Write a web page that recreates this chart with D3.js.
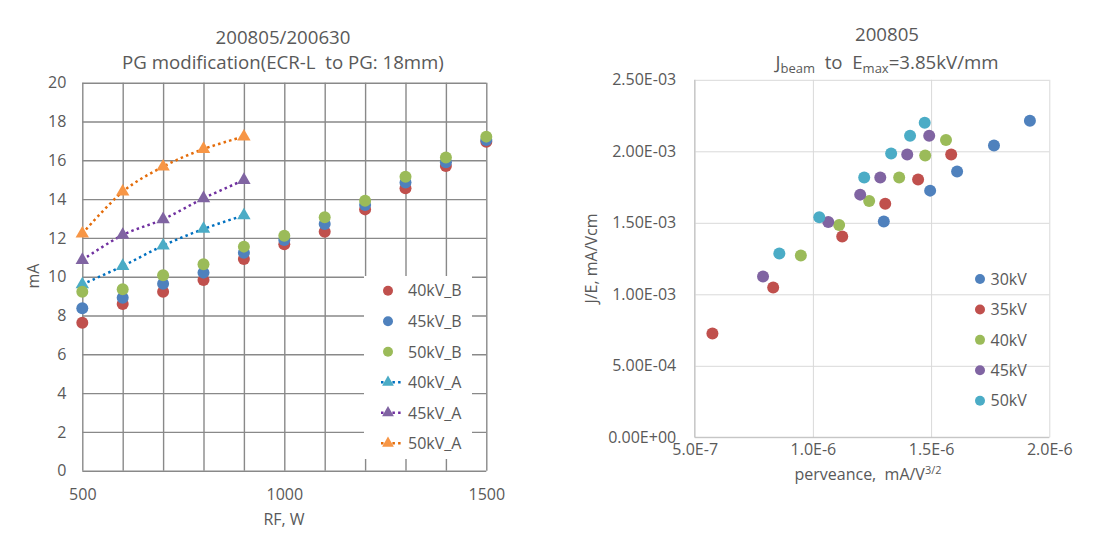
<!DOCTYPE html>
<html><head><meta charset="utf-8">
<script src="https://cdn.jsdelivr.net/npm/d3@7"></script>
<style>
html,body{margin:0;padding:0;background:#fff;}
svg text{font-family:"Open Sans","Noto Sans",sans-serif;fill:#595959;}
</style></head>
<body><svg id="c" width="1104" height="552"></svg>
<script>
// ---------- Left chart data ----------
const rfB = [500,600,700,800,900,1000,1100,1200,1300,1400,1500];
const kv40B = [7.63,8.59,9.23,9.83,10.91,11.67,12.32,13.47,14.56,15.71,16.95];
const kv45B = [8.37,8.92,9.64,10.21,11.24,11.89,12.72,13.70,14.85,15.90,17.05];
const kv50B = [9.23,9.35,10.07,10.64,11.55,12.11,13.06,13.92,15.15,16.15,17.22];
const rfA = [500,600,700,800,900];
const kv40A = [9.60,10.55,11.60,12.46,13.16];
const kv45A = [10.86,12.15,12.96,14.04,14.98];
const kv50A = [12.22,14.38,15.67,16.58,17.22];
const leftYTicks = [0,2,4,6,8,10,12,14,16,18,20];
const leftXGrid = [500,600,700,800,900,1000,1100,1200,1300,1400,1500];
const leftXLabels = ["500","1000","1500"];
const leftSeriesNames = ["40kV_B","45kV_B","50kV_B","40kV_A","45kV_A","50kV_A"];

// ---------- Right chart data ----------
const perv30 = [1.918e-6,1.766e-6,1.610e-6,1.496e-6,1.300e-6];
const j30    = [2.214e-3,2.040e-3,1.858e-3,1.725e-3,1.509e-3];
const perv35 = [1.585e-6,1.445e-6,1.306e-6,1.124e-6,0.832e-6,0.575e-6];
const j35    = [1.977e-3,1.802e-3,1.634e-3,1.404e-3,1.048e-3,0.726e-3];
const perv40 = [1.563e-6,1.475e-6,1.365e-6,1.238e-6,1.111e-6,0.949e-6];
const j40    = [2.079e-3,1.970e-3,1.816e-3,1.653e-3,1.485e-3,1.271e-3];
const perv45 = [1.492e-6,1.399e-6,1.285e-6,1.200e-6,1.065e-6,0.789e-6];
const j45    = [2.109e-3,1.977e-3,1.816e-3,1.697e-3,1.506e-3,1.125e-3];
const perv50 = [1.473e-6,1.411e-6,1.331e-6,1.217e-6,1.027e-6,0.858e-6];
const j50    = [2.200e-3,2.109e-3,1.984e-3,1.816e-3,1.539e-3,1.285e-3];
const rightYTicks = [0,5e-4,1e-3,1.5e-3,2e-3,2.5e-3];
const rightYLabels = ["0.00E+00","5.00E-04","1.00E-03","1.50E-03","2.00E-03","2.50E-03"];
const rightXTicks = [5e-7,1e-6,1.5e-6,2e-6];
const rightXLabels = ["5.0E-7","1.0E-6","1.5E-6","2.0E-6"];
const rightSeriesNames = ["30kV","35kV","40kV","45kV","50kV"];

const svg = d3.select("#c");

// ================= LEFT CHART =================
const L = {x0:82.3, x1:486.3, y0:82.7, y1:470.7};
const xL = d3.scaleLinear().domain([500,1500]).range([L.x0,L.x1]);
const yL = d3.scaleLinear().domain([0,20]).range([L.y1,L.y0]);
const gridL = "#898989";

const gxL = svg.append("g").attr("transform",`translate(0,${L.y1})`)
  .call(d3.axisBottom(xL).tickValues(leftXGrid).tickSize(-(L.y1-L.y0)).tickPadding(17.5)
    .tickFormat(d => leftXLabels.includes(String(d)) ? String(d) : ""));
gxL.select(".domain").remove();
gxL.selectAll("line").attr("stroke",gridL).attr("stroke-width",1.4);
gxL.selectAll("text").attr("font-size",16).style("fill","#595959");

const gyL = svg.append("g").attr("transform",`translate(${L.x0},0)`)
  .call(d3.axisLeft(yL).tickValues(leftYTicks).tickSize(-(L.x1-L.x0)).tickPadding(16));
gyL.select(".domain").remove();
gyL.selectAll("line").attr("stroke",gridL).attr("stroke-width",1.4);
gyL.selectAll("text").attr("font-size",16).style("fill","#595959");

// left legend background
svg.append("rect").attr("x",364).attr("y",276).attr("width",108).attr("height",183).attr("fill","#fff");

const tri = d3.symbol().type(d3.symbolTriangle);
const seriesA = [
  {name:"40kV_A", v:kv40A, fill:"#4BACC6", line:"#0070C0"},
  {name:"45kV_A", v:kv45A, fill:"#8064A2", line:"#7030A0"},
  {name:"50kV_A", v:kv50A, fill:"#F79646", line:"#E46C0A"}
];
const seriesB = [
  {name:"40kV_B", v:kv40B, fill:"#C0504D"},
  {name:"45kV_B", v:kv45B, fill:"#4F81BD"},
  {name:"50kV_B", v:kv50B, fill:"#9BBB59"}
];
const lineGen = d3.line().x(d=>xL(d[0])).y(d=>yL(d[1])).curve(d3.curveCatmullRom.alpha(0));
seriesA.forEach(s => {
  const pts = rfA.map((r,i)=>[r,s.v[i]]);
  svg.append("path").attr("d",lineGen(pts)).attr("fill","none")
    .attr("stroke",s.line).attr("stroke-width",2.5).attr("stroke-dasharray","2.5,3.2");
  svg.append("g").selectAll("path").data(pts).join("path")
    .attr("transform",d=>`translate(${xL(d[0])},${yL(d[1])})`)
    .attr("d",tri.size(78)()).attr("fill",s.fill);
});
seriesB.forEach(s => {
  svg.append("g").selectAll("circle").data(rfB.map((r,i)=>[r,s.v[i]])).join("circle")
    .attr("cx",d=>xL(d[0])).attr("cy",d=>yL(d[1])).attr("r",6).attr("fill",s.fill);
});

// left legend entries
const legL = [seriesB[0],seriesB[1],seriesB[2],seriesA[0],seriesA[1],seriesA[2]];
const legLY = d3.scaleLinear().domain([0,5]).range([290.7,443.3]);
legL.forEach((s,i) => {
  const y = legLY(i);
  if (s.line) {
    svg.append("line").attr("x1",381).attr("x2",402).attr("y1",y).attr("y2",y)
      .attr("stroke",s.line).attr("stroke-width",2.5).attr("stroke-dasharray","2.5,3.2");
    svg.append("path").attr("transform",`translate(388,${y})`).attr("d",tri.size(60)()).attr("fill",s.fill);
  } else {
    svg.append("circle").attr("cx",388).attr("cy",y).attr("r",5).attr("fill",s.fill);
  }
  svg.append("text").attr("x",408).attr("y",y).attr("dy","0.36em").attr("font-size",16).text(leftSeriesNames[i]);
});

// left titles
svg.append("text").attr("x",283).attr("y",44).attr("text-anchor","middle").attr("font-size",18.67).text("200805/200630");
svg.append("text").attr("x",283).attr("y",69).attr("text-anchor","middle").attr("font-size",18.67)
  .style("white-space","pre").text("PG modification(ECR-L  to PG: 18mm)");
svg.append("text").attr("x",284).attr("y",525).attr("text-anchor","middle").attr("font-size",16).text("RF, W");
svg.append("text").attr("transform","translate(38.5,276) rotate(-90)").attr("text-anchor","middle").attr("font-size",16).text("mA");

// ================= RIGHT CHART =================
const R = {x0:694.7, x1:1049.3, y0:79.8, y1:437.3};
const xR = d3.scaleLinear().domain([5e-7,2e-6]).range([R.x0,R.x1]);
const yR = d3.scaleLinear().domain([0,2.5e-3]).range([R.y1,R.y0]);
const gridR = "#D9D9D9";

const gxR = svg.append("g").attr("transform",`translate(0,${R.y1})`)
  .call(d3.axisBottom(xR).tickValues(rightXTicks).tickSize(-(R.y1-R.y0)).tickPadding(6)
    .tickFormat((d,i)=>rightXLabels[i]));
gxR.select(".domain").remove();
gxR.selectAll("line").attr("stroke",gridR).attr("stroke-width",1);
gxR.selectAll("text").attr("font-size",16).style("fill","#595959");

const gyR = svg.append("g").attr("transform",`translate(${R.x0},0)`)
  .call(d3.axisLeft(yR).tickValues(rightYTicks).tickSize(-(R.x1-R.x0)).tickPadding(18.5)
    .tickFormat((d,i)=>rightYLabels[i]));
gyR.select(".domain").remove();
gyR.selectAll("line").attr("stroke",gridR).attr("stroke-width",1);
gyR.selectAll("text").attr("font-size",16).style("fill","#595959");
// axis lines
svg.append("line").attr("x1",R.x0).attr("x2",R.x1).attr("y1",R.y1).attr("y2",R.y1).attr("stroke","#BFBFBF");
svg.append("line").attr("x1",R.x0).attr("x2",R.x0).attr("y1",R.y0).attr("y2",R.y1).attr("stroke","#BFBFBF");

const seriesR = [
  {p:perv30, j:j30, fill:"#4F81BD"},
  {p:perv35, j:j35, fill:"#C0504D"},
  {p:perv40, j:j40, fill:"#9BBB59"},
  {p:perv45, j:j45, fill:"#8064A2"},
  {p:perv50, j:j50, fill:"#4BACC6"}
];
seriesR.forEach(s => {
  svg.append("g").selectAll("circle").data(s.p.map((p,i)=>[p,s.j[i]])).join("circle")
    .attr("cx",d=>xR(d[0])).attr("cy",d=>yR(d[1])).attr("r",6).attr("fill",s.fill);
});
const legRY = d3.scaleLinear().domain([0,4]).range([279,400.7]);
seriesR.forEach((s,i) => {
  const y = legRY(i);
  svg.append("circle").attr("cx",980).attr("cy",y).attr("r",5).attr("fill",s.fill);
  svg.append("text").attr("x",990.5).attr("y",y).attr("dy","0.36em").attr("font-size",16).text(rightSeriesNames[i]);
});

// right titles
svg.append("text").attr("x",887).attr("y",41).attr("text-anchor","middle").attr("font-size",18.67).text("200805");
const t2 = svg.append("text").attr("x",887).attr("y",69).attr("text-anchor","middle").attr("font-size",18.67).style("white-space","pre");
t2.append("tspan").text("J");
t2.append("tspan").attr("font-size",13).attr("dy",4).text("beam");
t2.append("tspan").attr("dy",-4).text("  to  E");
t2.append("tspan").attr("font-size",13).attr("dy",4).text("max");
t2.append("tspan").attr("dy",-4).text("=3.85kV/mm");

const xt = svg.append("text").attr("x",868).attr("y",480).attr("text-anchor","middle").attr("font-size",16).style("white-space","pre");
xt.append("tspan").text("perveance,  mA/V");
xt.append("tspan").attr("font-size",11).attr("dy",-6).text("3/2");
svg.append("text").attr("transform","translate(597,258.5) rotate(-90)").attr("text-anchor","middle").attr("font-size",16).text("J/E, mA/Vcm");
</script></body></html>
